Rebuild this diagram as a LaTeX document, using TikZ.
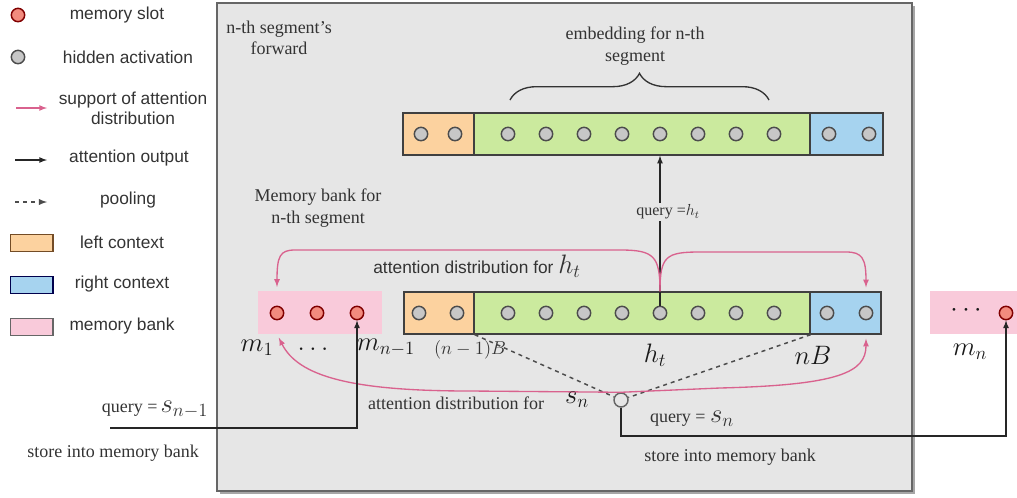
\RequirePackage{fix-cm}
\documentclass[tikz,border=0pt]{standalone}
\usepackage{fontspec}
\setmainfont{Liberation Serif}
\setsansfont{Liberation Sans}
\usetikzlibrary{arrows,decorations.pathreplacing,positioning}
\definecolor{boxgray}{HTML}{E6E6E6}
\definecolor{leftc}{HTML}{FCD29F}
\definecolor{midc}{HTML}{CBEA9E}
\definecolor{rightc}{HTML}{A6D3EF}
\definecolor{bankc}{HTML}{F9CADA}
\definecolor{slotc}{HTML}{F28B7E}
\definecolor{attc}{HTML}{D9628E}
\tikzset{hid/.style={circle, draw=black!70, fill=black!22, line width=1.1pt, minimum size=10pt, inner sep=0pt},
 slot/.style={hid, draw=red!50!black, fill=slotc},
 lctx/.style={rectangle, draw=black!75, line width=1pt, fill=leftc, inner sep=0pt, minimum height=31.5pt},
 mctx/.style={lctx, fill=midc},
 rctx/.style={lctx, fill=rightc},
 bank/.style={rectangle, fill=bankc, inner sep=0pt, minimum height=32pt},
 att/.style={-latex, draw=attc, line width=1pt, shorten >=3pt},
 outarrow/.style={-latex, draw=black!85, line width=1pt},
 pool/.style={dashed, draw=black!70, line width=1.1pt},
 lgd/.style={font=\sffamily\fontsize{13}{15}\selectfont, text=black!80},
 txt/.style={font=\fontsize{13.5}{16}\selectfont, text=black!80},
 bigmath/.style={font=\fontsize{20}{24}\selectfont, text=black!90}}

\begin{document}
\begin{tikzpicture}[x=0.75pt,y=-0.75pt]
   \useasboundingbox (0,0) rectangle (1017,497);
   \fill[black!35] (220,6) rectangle (915,494);
   \draw[fill=boxgray, draw=black!60, line width=1.2pt] (217,3) rectangle (912,491);
   % legend
   \node[slot] (ls) at (18,15) {};
   \node[lgd] (lst) at (117,15) {memory slot};
   \node[hid] (lh) at (18,57) {};
   \node[lgd] (lht) at (128,57) {hidden activation};
   \coordinate (la1) at (16,108);
   \coordinate (la2) at (47,108);
   \draw[att, shorten >=0pt] (la1) -- (la2);
   \node[lgd, align=center] (lat) at (133,108) {support of attention\\distribution};
   \coordinate (lo1) at (15,160);
   \coordinate (lo2) at (47,160);
   \draw[outarrow] (lo1) -- (lo2);
   \node[lgd] (lot) at (129,158) {attention output};
   \coordinate (lp1) at (15,202);
   \coordinate (lp2) at (47,202);
   \draw[pool, -latex] (lp1) -- (lp2);
   \node[lgd] (lpt) at (128,200) {pooling};
   \node[lctx, draw=brown!60!black, minimum width=32pt, minimum height=12.5pt] (llc) at (31.5,243) {};
   \node[lgd] (llct) at (122,242) {left context};
   \node[rctx, draw=blue!30!black, minimum width=32pt, minimum height=12.5pt] (lrc) at (31.5,285) {};
   \node[lgd] (lrct) at (122,284) {right context};
   \node[lctx, fill=bankc, draw=black!60, minimum width=32pt, minimum height=12.5pt] (lmb) at (31.5,327) {};
   \node[lgd] (lmbt) at (122,326) {memory bank};
   % n-th segment
   \node[txt, align=center] (seg) at (279,38) {n-th segment's\\forward};
   \node[txt, align=center] (emb) at (635,46) {embedding for n-th\\segment};
   \node[txt, align=center] (mbk) at (318,208) {Memory bank for\\n-th segment};
   \draw[decorate, decoration={brace, amplitude=20pt}, draw=black!80, line width=1pt] (510,100) -- (769,100);
   \node[lctx, minimum width=53.25pt] (tl) at (438.5,134) {};
   \node[mctx, minimum width=252pt] (tm) at (642,134) {};
   \node[rctx, minimum width=54.75pt] (tr) at (846.5,134) {};
   \foreach \x [count=\i] in {421,455} \node[hid] (tl\i) at (\x,134) {};
   \foreach \i in {1,...,8} \node[hid] (tm\i) at ({470+38*\i},134) {};
   \foreach \x [count=\i] in {829,869} \node[hid] (tr\i) at (\x,134) {};
   \node[lctx, minimum width=52.5pt] (bl) at (439,313) {};
   \node[mctx, minimum width=252pt] (bm) at (642,313) {};
   \node[rctx, minimum width=53.25pt] (br) at (845.5,313) {};
   \foreach \x [count=\i] in {419,457} \node[hid] (bl\i) at (\x,313) {};
   \foreach \i in {1,...,8} \node[hid] (bm\i) at ({470+38*\i},313) {};
   \foreach \x [count=\i] in {827,866} \node[hid] (br\i) at (\x,313) {};
   \node[bank, minimum width=93pt] (bank) at (320,312.5) {};
   \foreach \x [count=\i] in {277,317,357} \node[slot] (mb\i) at (\x,313) {};
   \node[bank, minimum width=65.25pt] (bankr) at (973.5,312.5) {};
   \node[bigmath] (dotsr) at (966,311) {$\cdots$};
   \node[slot] (mn) at (1006,313) {};
   \node[bigmath] (lm1) at (257,348) {$m_1$};
   \node[bigmath] (ldots) at (313,349) {$\ldots$};
   \node[bigmath] (lmn1) at (386,348) {$m_{n-1}$};
   \node[txt, font=\fontsize{14}{16}\selectfont] (lnb) at (470,350) {$(n-1)B$};
   \node[bigmath] (lhtb) at (655,355) {$h_t$};
   \node[bigmath] (lnB) at (813,355) {$nB$};
   \node[bigmath] (lmn) at (970,352) {$m_n$};
   % attention for h_t
   \draw[outarrow] (bm5.north) -- (tm.south -| bm5);
   \node[txt, fill=boxgray, inner sep=1pt, font=\fontsize{12}{14}\selectfont] (qh) at (668,212) {query =$h_t$};
   \draw[att] (bm.north -| bm5) .. controls (660,256) and (654,250) .. (620,250) -- (295,250) .. controls (280,250) and (277,256) .. (bank.north -| mb1);
   \draw[att] (bm.north -| bm5) .. controls (660,256) and (666,252) .. (700,252) -- (846,252) .. controls (862,252) and (866,258) .. (br.north -| br2);
   \node[lgd] (adh) at (477,266) {attention distribution for {\fontsize{20}{24}\selectfont$h_t$}};
   % attention for s_n
   \node[hid, fill=boxgray, draw=black!60, minimum size=10.5pt] (sn) at (621,400) {};
   \draw[pool] (bl.south east) -- (sn);
   \draw[pool] (bm.south east) -- (sn);
   \draw[att] (sn.north) -- (470,391) .. controls (350,391) and (298,376) .. (bank.south -| mb1);
   \draw[att] (sn.north) -- (720,388) .. controls (840,385) and (866,372) .. (br.south -| br2);
   \node[txt] (ads) at (456,403) {attention distribution for};
   \node[bigmath] (lsn) at (577,400) {$s_n$};
   \node[txt] (qs) at (692,419) {query = {\fontsize{20}{24}\selectfont$s_n$}};
   \node[txt] (sto) at (730,457) {store into memory bank};
   \node[txt] (qs1) at (155,410) {query =\,{\fontsize{20}{24}\selectfont$s_{n-1}$}};
   \node[txt] (sto1) at (113,453) {store into memory bank};
   \coordinate (low) at (0,436);
   \draw[outarrow] (sn.south) |- (low -| mn) -- (mn.south);
   \coordinate (qin) at (110,428);
   \draw[outarrow] (qin) -| (mb3.south);
  \end{tikzpicture}
\end{document}
